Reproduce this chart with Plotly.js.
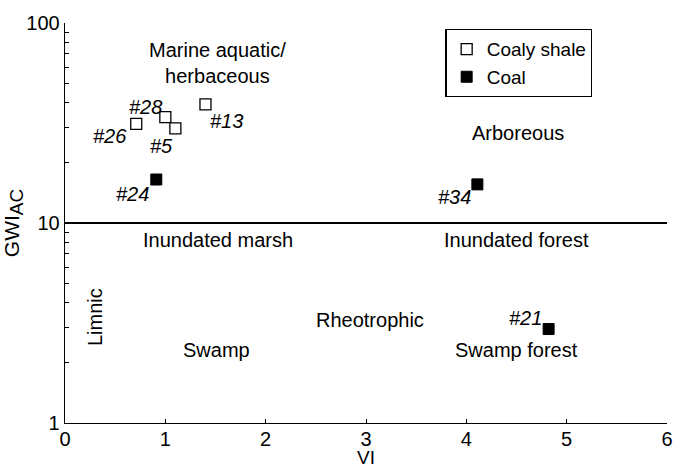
<!DOCTYPE html>
<html><head><meta charset="utf-8">
<script src="https://cdn.plot.ly/plotly-3.0.1.min.js"></script>
<style>body{margin:0;background:#fff}#c{width:676px;height:468px}</style>
</head><body><div id="c"></div>
<script>
const shaleIds = ["#26", "#28", "#5", "#13"];
const shaleVI = [0.71, 1.00, 1.10, 1.40];
const shaleGWI = [31.3, 33.8, 29.7, 39.2];
const coalIds = ["#24", "#34", "#21"];
const coalVI = [0.91, 4.11, 4.82];
const coalGWI = [16.5, 15.6, 2.95];
const boundaryGWI = 10;
const xRange = [0, 6];
const yTickVals = [1,2,3,4,5,6,7,8,9,10,20,30,40,50,60,70,80,90,100];
const yTickText = yTickVals.map(v => (v===1||v===10||v===100) ? String(v) : "");

// label offsets (pixels) for each sample id
const labelOffsets = {"#26":[-26,12], "#28":[-20,-10], "#5":[-14,18], "#13":[21,17], "#24":[-24,14], "#34":[-23,13], "#21":[-23,-11]};

const regions = [
  {t:"Marine aquatic/<br>herbaceous", x:1.515, y:63},
  {t:"Arboreous", x:4.51, y:28.2},
  {t:"Inundated marsh", x:1.52, y:8.2},
  {t:"Inundated forest", x:4.5, y:8.2},
  {t:"Rheotrophic", x:3.04, y:3.27},
  {t:"Swamp", x:1.51, y:2.32},
  {t:"Swamp forest", x:4.5, y:2.32}
];

const font = {family:"Liberation Sans, Arial, sans-serif", size:20, color:"#000"};
const ann = [];
regions.forEach(r => ann.push({x:r.x, y:Math.log10(r.y), text:r.t, showarrow:false, font:font}));
ann.push({x:0.3, y:Math.log10(3.39), text:"Limnic", textangle:-90, showarrow:false, font:font});
function addIds(ids, xs, ys){
  ids.forEach((id,i)=>{
    const o = labelOffsets[id];
    ann.push({x:xs[i], y:Math.log10(ys[i]), text:"<i>"+id+"</i>", showarrow:false, xshift:o[0], yshift:-o[1], font:font});
  });
}
addIds(shaleIds, shaleVI, shaleGWI);
addIds(coalIds, coalVI, coalGWI);

const traces = [
  {x:shaleVI, y:shaleGWI, mode:"markers", type:"scatter", name:"Coaly shale",
   marker:{symbol:"square", size:11, color:"#fff", line:{color:"#000", width:1.3}}},
  {x:coalVI, y:coalGWI, mode:"markers", type:"scatter", name:"Coal",
   marker:{symbol:"square", size:11, color:"#000", line:{color:"#000", width:1}}},
  {x:xRange, y:[boundaryGWI, boundaryGWI], mode:"lines", type:"scatter", showlegend:false,
   line:{color:"#000", width:1.8}, hoverinfo:"skip"}
];

const layout = {
  width:676, height:468,
  margin:{l:65, r:9, t:23, b:45},
  paper_bgcolor:"#fff", plot_bgcolor:"#fff",
  font:font,
  showlegend:true,
  legend:{x:0.632, y:0.985, xanchor:"left", yanchor:"top", bordercolor:"#000", borderwidth:1.2,
          bgcolor:"#fff", font:{family:font.family, size:19, color:"#000"}, itemwidth:30, tracegroupgap:0},
  xaxis:{range:xRange, showgrid:false, zeroline:false, showline:true, linecolor:"#000", linewidth:1.3,
         ticks:"inside", ticklen:4, tickcolor:"#000", dtick:1, tickfont:font, ticklabelstandoff:-2,
         title:{text:"VI", font:{family:font.family, size:19, color:"#000"}}},
  yaxis:{type:"log", range:[0,2], showgrid:false, zeroline:false, showline:true, linecolor:"#000", linewidth:1.3,
         ticks:"inside", ticklen:4, tickcolor:"#000", tickvals:yTickVals, ticktext:yTickText, tickfont:font,
         title:{text:"GWI<sub><span style='font-size:19px'>AC</span></sub>", font:{family:font.family, size:21, color:"#000"}, standoff:4}},
  annotations:ann
};
Plotly.newPlot("c", traces, layout, {displayModeBar:false, staticPlot:true});
</script>
</body></html>
